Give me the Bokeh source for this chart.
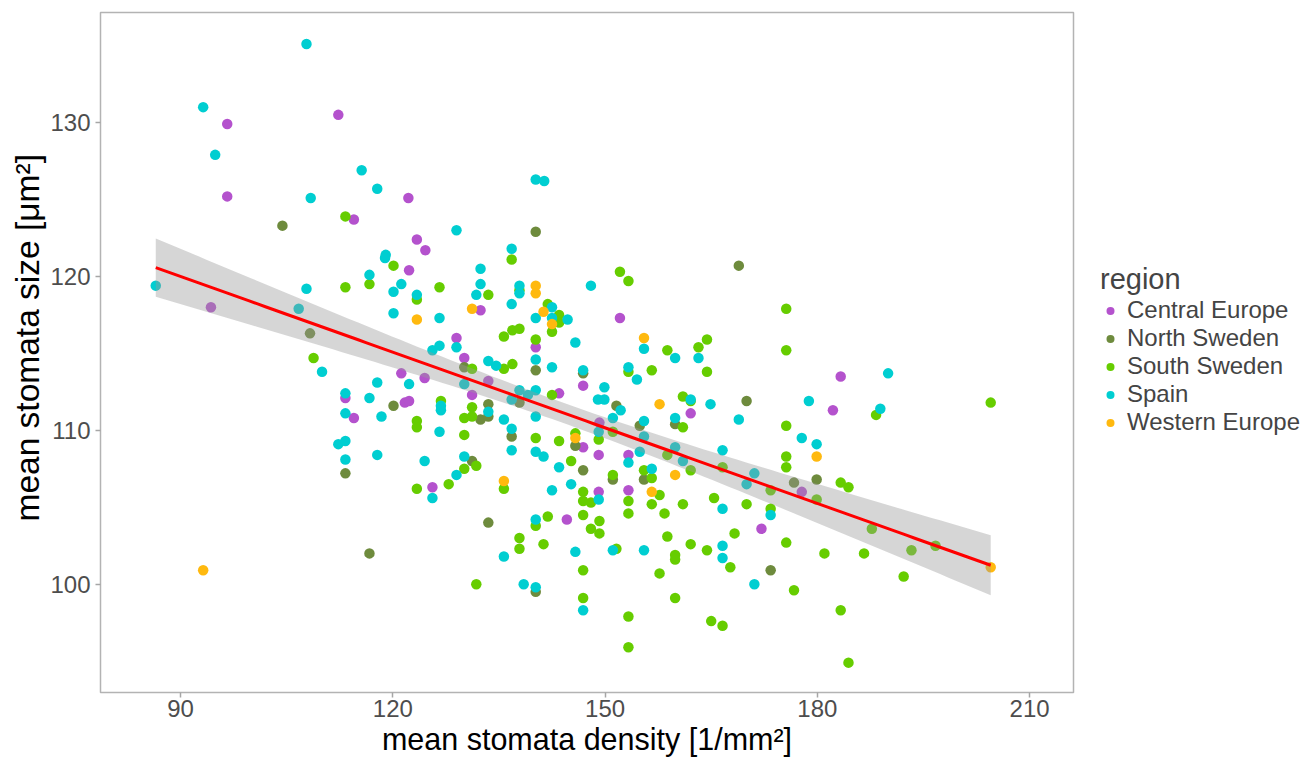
import numpy as np
from bokeh.plotting import figure
from bokeh.models import Range1d, Legend, LegendItem, FixedTicker, Title
from bokeh.embed import file_html
from bokeh.resources import INLINE

# ---------------- data ----------------
central_x = [96.6,112.3,96.6,122.2,114.5,123.4,124.6,94.3,122.3,121.2,124.5,113.3,121.7,122.3,114.5,125.6,
             152.1,132.4,140.2,129.0,130.1,183.3,133.5,131.2,143.5,146.9,162.1,182.2,177.8,146.9,149.1,149.2,
             153.3,149.1,153.3,144.6,172.1]
central_y = [129.9,130.5,125.2,125.1,123.7,122.4,121.7,118.0,120.4,113.7,113.4,112.1,111.8,111.9,110.8,106.3,
             117.3,117.8,115.4,116.0,114.7,113.5,113.2,112.3,112.4,112.9,111.1,111.3,106.0,108.9,108.4,110.5,
             108.4,106.0,106.1,104.2,103.6]

north_x = [104.4,140.2,108.3,120.1,113.3,168.9,140.2,146.9,130.1,137.9,151.6,170.0,176.7,179.9,133.5,132.4,
           133.5,136.8,145.8,131.2,146.9,154.9,159.9,155.5,151.1,133.5,140.2,173.4,116.7]
north_y = [123.3,122.9,116.3,111.6,107.2,120.7,113.9,113.7,114.1,111.8,111.6,111.9,106.6,106.8,111.7,110.7,
           110.9,109.6,109.0,108.0,107.4,110.3,110.4,106.8,106.8,104.0,99.5,100.9,102.0]

south_x = [113.3,136.8,108.8,113.3,116.7,120.1,123.4,126.6,123.4,123.4,123.4,137.9,152.1,153.3,175.6,133.5,
           141.9,143.5,142.5,143.5,135.7,136.9,137.9,140.2,158.8,163.2,164.4,175.6,135.7,136.9,153.3,156.6,
           164.4,131.2,142.5,161.0,162.1,175.6,175.6,175.6,166.6,173.4,179.9,183.3,184.4,126.8,131.2,130.1,
           131.2,140.2,143.5,145.8,130.1,131.8,130.1,127.9,145.2,149.1,151.1,155.5,156.6,161.0,158.8,162.1,
           151.1,135.7,146.9,146.9,148.0,153.3,157.7,156.6,161.0,165.4,170.0,173.4,
           131.8,137.9,137.9,140.2,141.9,141.3,146.9,148.0,149.2,149.2,146.9,146.9,151.6,153.3,153.3,153.3,
           158.4,158.8,157.7,159.9,159.9,159.9,162.1,164.4,167.7,168.3,165.0,166.6,175.6,176.7,181.0,183.3,
           184.4,186.6,187.7,193.3,196.7,192.2,188.3,204.5]
south_y = [123.9,121.1,114.7,119.3,119.5,120.7,118.5,119.3,110.6,110.2,106.2,119.1,120.3,119.7,117.9,118.8,
           118.2,117.5,116.4,117.0,116.1,116.5,116.6,115.9,115.2,115.4,115.9,115.2,114.0,114.3,113.8,113.9,
           113.8,114.0,112.3,112.2,111.9,110.3,108.3,107.6,107.6,106.1,105.5,106.6,106.3,111.9,111.5,110.8,
           110.9,109.5,109.3,109.8,109.7,107.7,107.5,106.5,108.0,109.4,109.9,107.4,106.9,110.2,108.4,107.4,
           107.1,106.2,106.0,105.4,105.3,105.4,105.8,105.2,105.2,105.6,105.2,104.9,
           100.0,103.0,102.3,103.8,104.4,102.6,104.5,103.6,104.1,103.3,100.9,99.1,102.3,104.6,97.9,95.9,
           104.6,103.1,100.7,101.9,101.6,99.1,102.6,102.2,101.1,103.3,97.6,97.3,102.7,99.6,102.0,98.3,
           94.9,102.0,103.6,102.2,102.5,100.5,111.0,111.8]

spain_x = [107.8,93.2,94.9,115.6,117.8,108.4,119.0,118.9,140.2,141.4,129.0,136.8,86.5,106.7,107.8,110.0,
           116.7,121.2,120.1,123.4,120.1,126.6,125.6,126.6,117.8,122.3,113.3,116.7,113.3,118.4,126.8,126.8,
           126.6,112.3,113.3,113.3,117.8,124.5,125.6,
           132.4,132.4,131.8,137.9,137.9,148.0,136.8,140.2,142.5,142.5,144.7,145.8,155.5,159.9,163.2,129.0,
           133.5,134.6,140.2,142.5,146.9,153.3,154.5,130.1,136.8,137.9,139.1,140.2,149.9,149.0,149.9,152.2,
           151.1,162.1,164.9,178.8,168.9,177.8,179.9,166.6,170.0,171.1,133.5,135.7,136.8,140.2,130.1,129.0,
           136.8,140.2,141.3,143.5,149.1,155.5,155.5,154.9,153.3,156.6,159.9,159.9,161.0,142.5,145.2,149.1,
           166.6,
           135.7,140.2,145.8,138.5,140.2,146.9,151.1,155.5,166.6,166.6,173.4,171.1,190.0,188.9]
spain_y = [135.1,131.0,127.9,126.9,125.7,125.1,121.4,121.2,126.3,126.2,123.0,121.8,119.4,117.9,119.2,113.8,
           120.1,119.5,119.0,118.8,117.6,117.3,115.2,115.5,113.1,113.0,112.4,112.1,111.1,110.9,111.6,111.3,
           109.9,109.1,109.3,108.1,108.4,108.0,105.6,
           120.5,119.5,118.8,119.4,118.9,119.4,118.2,117.3,118.0,117.3,117.2,115.7,115.3,114.7,114.7,115.4,
           114.5,114.2,114.6,114.1,113.9,114.1,113.3,113.0,112.0,112.6,112.3,112.6,112.8,112.0,112.0,111.3,
           110.8,112.0,111.7,111.9,110.7,109.5,109.1,108.7,106.5,107.2,111.2,110.7,110.1,110.9,108.3,107.1,
           108.7,108.6,108.3,107.6,109.9,110.6,109.6,108.6,107.9,107.5,110.8,108.9,108.0,106.1,106.5,105.5,
           104.9,
           101.8,104.2,102.1,100.0,99.8,98.3,102.2,102.2,102.5,101.7,104.5,100.0,113.7,111.4]

western_x = [123.4,140.2,140.2,131.2,141.3,142.5,155.5,157.7,179.9,145.8,159.9,135.7,156.6,204.5,93.2]
western_y = [117.2,119.4,118.9,117.9,117.7,116.9,116.0,111.7,108.3,109.5,107.1,106.7,106.0,101.1,100.9]

regions = ["Central Europe", "North Sweden", "South Sweden", "Spain", "Western Europe"]
colors = ["#B452CD", "#6E8B3D", "#66CD00", "#00CED1", "#FFB90F"]
xticks = [90, 120, 150, 180, 210]
yticks = [100, 110, 120, 130]

series = [(central_x, central_y), (north_x, north_y), (south_x, south_y),
          (spain_x, spain_y), (western_x, western_y)]

# ---------------- linear fit with 95% confidence band ----------------
all_x = np.array(sum([s[0] for s in series], []), dtype=float)
all_y = np.array(sum([s[1] for s in series], []), dtype=float)
n = len(all_x)
slope, intercept = np.polyfit(all_x, all_y, 1)
resid = all_y - (slope * all_x + intercept)
s_err = np.sqrt(np.sum(resid ** 2) / (n - 2))
xbar = all_x.mean()
sxx = np.sum((all_x - xbar) ** 2)
fx = np.linspace(all_x.min(), all_x.max(), 100)
fy = slope * fx + intercept
se = s_err * np.sqrt(1.0 / n + (fx - xbar) ** 2 / sxx)
t_crit = 1.9675
lo = fy - t_crit * se
hi = fy + t_crit * se

# ---------------- figure ----------------
FONT = "Liberation Sans"
p = figure(frame_width=973, frame_height=680,
           x_range=Range1d(78.69, 216.2), y_range=Range1d(92.96, 137.15),
           output_backend="svg", toolbar_location=None,
           min_border_left=100, min_border_top=12, min_border_right=233, min_border_bottom=67)
p.background_fill_color = "white"
p.border_fill_color = "white"
p.grid.visible = False
p.outline_line_color = "#B3B3B3"
p.outline_line_width = 1.5

p.xaxis.ticker = FixedTicker(ticks=xticks)
p.yaxis.ticker = FixedTicker(ticks=yticks)
for ax in (p.xaxis[0], p.yaxis[0]):
    ax.axis_line_color = None
    ax.major_tick_line_color = "#A6A6A6"
    ax.major_tick_line_width = 1.5
    ax.major_tick_out = 5
    ax.major_tick_in = 0
    ax.minor_tick_line_color = None
    ax.major_label_text_font = FONT
    ax.major_label_text_font_size = "24px"
    ax.major_label_text_color = "#4D4D4D"
    ax.axis_label_text_font = FONT
    ax.axis_label_text_font_size = "30.5px"
    ax.axis_label_text_font_style = "normal"
    ax.axis_label_text_color = "#000000"
p.xaxis.axis_label = "mean stomata density [1/mm²]"
p.xaxis.major_label_standoff = 2
p.xaxis.axis_label_standoff = 2
p.yaxis.major_label_standoff = 5

ytitle = Title(text="mean stomata size [μm²]", align="left", offset=171,
               text_font=FONT, text_font_size="33.5px", text_font_style="normal",
               text_color="#000000", standoff=3)
p.add_layout(ytitle, "left")

renderers = []
for (xs, ys), col in zip(series, colors):
    r = p.scatter(xs, ys, size=10.5, fill_color=col, line_color=col, line_width=0)
    renderers.append(r)

p.varea(x=fx, y1=lo, y2=hi, fill_color="#999999", fill_alpha=0.4)
p.line(fx, fy, line_color="#FF0000", line_width=3)

legend = Legend(items=[LegendItem(label=lab, renderers=[r]) for lab, r in zip(regions, renderers)],
                location=(27, 256), title="region")
legend.title_text_font = FONT
legend.title_text_font_size = "29px"
legend.title_text_font_style = "normal"
legend.title_text_line_height = 0.85
legend.title_standoff = 0
legend.label_text_font = FONT
legend.label_text_font_size = "24px"
legend.label_text_line_height = 1.0
legend.label_height = 27
legend.glyph_height = 27
legend.glyph_width = 20
legend.label_standoff = 7
legend.spacing = 0
legend.padding = 0
legend.margin = 0
legend.border_line_color = None
legend.background_fill_alpha = 0
p.add_layout(legend, "right")

open("out.html", "w").write(file_html(p, INLINE))
